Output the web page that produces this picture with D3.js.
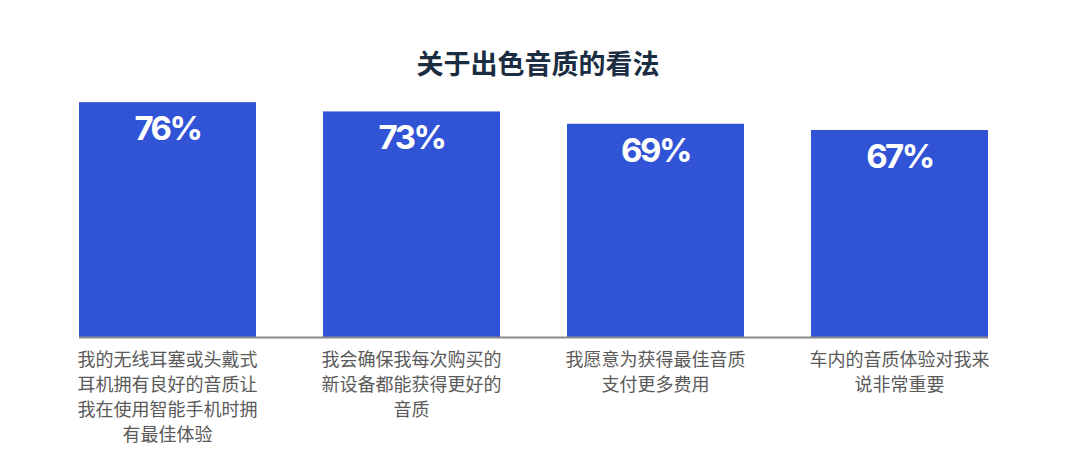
<!DOCTYPE html>
<html>
<head>
<meta charset="utf-8">
<script src="https://cdn.jsdelivr.net/npm/d3@7"></script>
<style>
  html, body { margin: 0; padding: 0; background: #fff; }
</style>
</head>
<body>
<div class="container"></div>
<script>
const categories = [
    "我的无线耳塞或头戴式耳机拥有良好的音质让我在使用智能手机时拥有最佳体验",
    "我会确保我每次购买的新设备都能获得更好的音质",
    "我愿意为获得最佳音质支付更多费用",
    "车内的音质体验对我来说非常重要"
];
const values = [76, 73, 69, 67];
const title = "关于出色音质的看法";

const width = 1080;
const height = 473;
const left = 79;
const right = 988;
const baseY = 337;
const cjk = '"Noto Sans CJK SC", "Noto Sans", sans-serif';

const svg = d3.select(".container")
    .append("svg")
    .attr("width", width)
    .attr("height", height)
    .attr("viewBox", `0 0 ${width} ${height}`);

svg.append("rect")
    .attr("width", width)
    .attr("height", height)
    .attr("fill", "#ffffff");

const x = d3.scaleBand()
    .domain(categories)
    .range([left, right])
    .paddingInner(67 / 244)
    .paddingOuter(0);

const y = d3.scaleLinear()
    .domain([0, 100])
    .range([baseY, baseY - 309]);

// title
svg.append("text")
    .attr("x", 538)
    .attr("y", 74)
    .attr("text-anchor", "middle")
    .style("font-family", cjk)
    .style("font-size", "27px")
    .style("font-weight", "bold")
    .attr("fill", "#1b2d42")
    .text(title);

// bars
svg.selectAll(".bar")
    .data(values)
    .join("rect")
    .attr("class", "bar")
    .attr("x", (d, i) => x(categories[i]))
    .attr("y", d => y(d))
    .attr("width", x.bandwidth())
    .attr("height", d => baseY - y(d))
    .attr("fill", "#3153d6");

// baseline
svg.append("line")
    .attr("x1", left)
    .attr("x2", right)
    .attr("y1", baseY + 0.5)
    .attr("y2", baseY + 0.5)
    .attr("stroke", "#8a8a8a")
    .attr("stroke-width", 2);

// value labels
svg.selectAll(".val")
    .data(values)
    .join("text")
    .attr("class", "val")
    .attr("x", (d, i) => x(categories[i]) + x.bandwidth() / 2)
    .attr("y", d => y(d) + 38)
    .attr("text-anchor", "middle")
    .style("font-family", "Inter, Lato, sans-serif")
    .style("font-size", "33px")
    .style("font-weight", "700")
    .style("letter-spacing", "-2.5px")
    .attr("fill", "#ffffff")
    .text(d => d + "%");

// category labels, wrapped at 10 characters
categories.forEach((c, i) => {
    const lines = [];
    for (let k = 0; k < c.length; k += 10) lines.push(c.slice(k, k + 10));
    const t = svg.append("text")
        .attr("text-anchor", "middle")
        .style("font-family", cjk)
        .style("font-size", "18px")
        .attr("fill", "#5a5a5a");
    lines.forEach((l, j) => {
        t.append("tspan")
            .attr("x", x(c) + x.bandwidth() / 2)
            .attr("y", 366 + j * 25)
            .text(l);
    });
});
</script>
</body>
</html>
